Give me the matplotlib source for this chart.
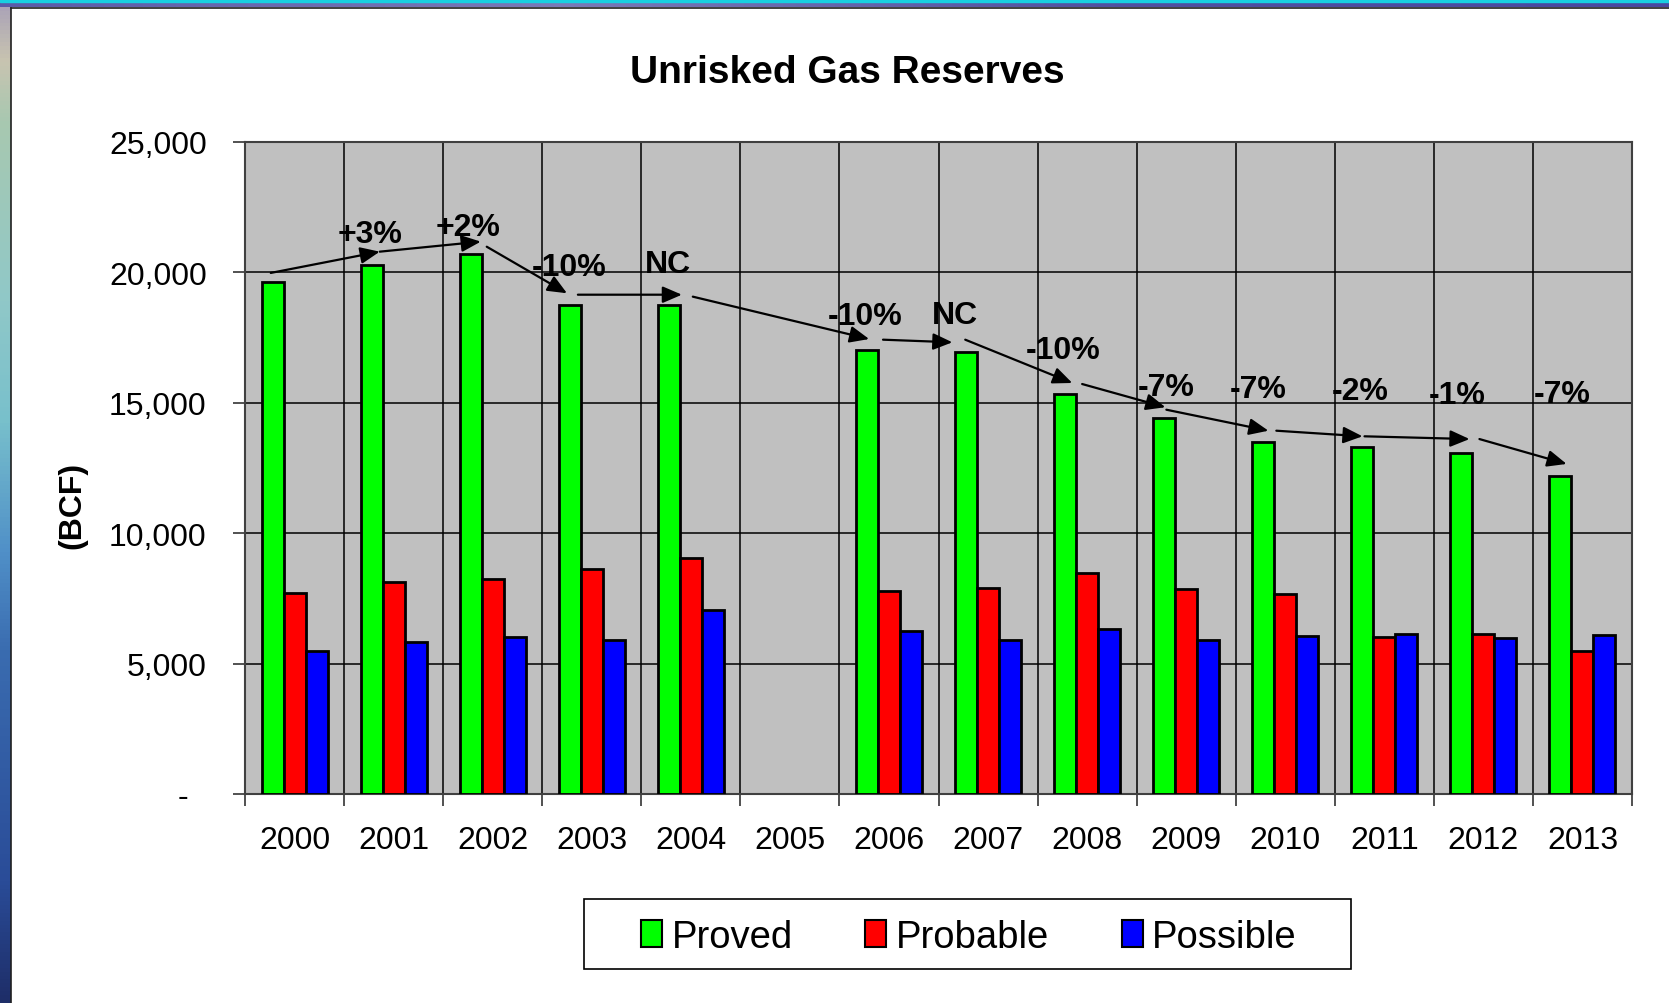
import numpy as np
import matplotlib.pyplot as plt
from matplotlib.colors import LinearSegmentedColormap
from matplotlib.patches import Patch, Rectangle

# values (BCF); 2005 has no bars
years = ['2000', '2001', '2002', '2003', '2004', '2005', '2006',
         '2007', '2008', '2009', '2010', '2011', '2012', '2013']
proved = [19640, 20290, 20700, 18750, 18750, np.nan, 17020,
          16960, 15340, 14400, 13480, 13290, 13070, 12200]
probable = [7700, 8120, 8230, 8640, 9050, np.nan, 7780,
            7910, 8460, 7860, 7650, 6030, 6150, 5490]
possible = [5500, 5820, 6020, 5910, 7040, np.nan, 6240,
            5920, 6320, 5920, 6050, 6150, 5990, 6090]

# trend arrows (category index, BCF)
arrow_x0 = [-0.24, 0.86, 1.94, 2.86, 4.02, 5.94, 6.77, 7.95, 8.80, 9.91, 10.80, 11.96]
arrow_y0 = [19980, 20795, 20985, 19145, 19070, 17420, 17420, 15720, 14735, 13930, 13715, 13610]
arrow_x1 = [0.86, 1.88, 2.75, 3.91, 5.80, 6.64, 7.85, 8.79, 9.83, 10.78, 11.86, 12.84]
arrow_y1 = [20795, 21180, 19200, 19145, 17445, 17320, 15760, 14830, 13930, 13715, 13610, 12655]

change_text = ['+3%', '+2%', '-10%', 'NC', '-10%', 'NC', '-10%', '-7%', '-7%', '-2%', '-1%', '-7%']
change_x = [0.76, 1.75, 2.77, 3.77, 5.76, 6.67, 7.76, 8.80, 9.73, 10.76, 11.74, 12.80]
change_y = [21470, 21730, 20195, 20325, 18315, 18365, 17025, 15595, 15530, 15465, 15300, 15340]

series_names = ['Proved', 'Probable', 'Possible']
series_colors = ['#00ff00', '#ff0000', '#0000ff']

plt.rcParams['font.family'] = ['Liberation Sans', 'DejaVu Sans']

W, H = 1669, 1004
fig = plt.figure(figsize=(W / 100, H / 100), dpi=100)
fig.patch.set_facecolor('white')

# slide background bits (left strip, top band), pixel coords from top-left
bg = fig.add_axes([0, 0, 1, 1])
bg.set_axis_off()
bg.set_xlim(0, W)
bg.set_ylim(H, 0)
strip = LinearSegmentedColormap.from_list('strip', [
    (0.0, '#a8a0b8'), (0.06, '#c8c4b0'), (0.12, '#a8c8b0'), (0.30, '#90c8c8'),
    (0.42, '#78c0cc'), (0.55, '#5090c8'), (0.65, '#3a6cb0'), (0.88, '#2a4c98'),
    (1.0, '#1e2e68')])
bg.imshow(np.linspace(0, 1, 256).reshape(-1, 1), cmap=strip, aspect='auto',
          extent=(0, 10, H, 0), zorder=1)
band = LinearSegmentedColormap.from_list('band', ['#5a5aa8', '#7a7ab8', '#5050a0', '#4848a0'])
bg.imshow(np.linspace(0, 1, 256).reshape(1, -1), cmap=band, aspect='auto',
          extent=(0, W, 8, 3), zorder=1)
bg.add_patch(Rectangle((0, 0), W, 3, color='#18d0e0', zorder=2))
bg.plot([10.5, 10.5], [8.5, H], color='#202020', lw=1.2, zorder=3)
bg.plot([10.5, W], [8.5, 8.5], color='#202020', lw=1.2, zorder=3)
bg.add_patch(Rectangle((584, 900), 767, 70, facecolor='white', edgecolor='black', lw=1.2, zorder=3))

ax = fig.add_axes([245 / W, 1 - 795 / H, (1632 - 245) / W, (795 - 143) / H])
ax.set_facecolor('#c0c0c0')

x = np.arange(len(years))
w = 0.222
for k, vals in enumerate([proved, probable, possible]):
    ax.bar(x + (k - 1) * w, vals, w, color=series_colors[k],
           edgecolor='black', linewidth=2, zorder=3)

ax.set_xlim(-0.5, 13.5)
ax.set_ylim(0, 25000)

ax.set_xticks(np.arange(-0.5, 14, 1))
ax.set_xticklabels([])
ax.set_xticks(x, minor=True)
ax.set_xticklabels(years, minor=True, fontsize=23)
ax.tick_params(axis='x', which='major', length=8.6, width=1.2, direction='out', color='#333333')
ax.tick_params(axis='x', which='minor', length=0, pad=22)

yt = np.arange(0, 25001, 5000)
ax.set_yticks(yt)
ax.set_yticklabels([f'{v:,}' if v else '-  ' for v in yt], fontsize=23)
ax.tick_params(axis='y', length=8.6, width=1.2, direction='out', color='#333333', pad=19)

ax.grid(axis='x', which='major', color='black', lw=1.1, zorder=1)
ax.grid(axis='y', which='major', color='black', lw=1.1, zorder=1)
ax.set_axisbelow(True)
for s in ax.spines.values():
    s.set_color('#404040')
    s.set_linewidth(1.5)

for i in range(len(arrow_x0)):
    ax.annotate('', xy=(arrow_x1[i], arrow_y1[i]), xytext=(arrow_x0[i], arrow_y0[i]),
                arrowprops=dict(arrowstyle='-|>,head_length=0.65,head_width=0.28',
                                color='black', lw=1.6, shrinkA=0, shrinkB=0,
                                mutation_scale=18), zorder=5)
for t, cx, cy in zip(change_text, change_x, change_y):
    ax.text(cx, cy, t, ha='center', va='center', fontsize=23, fontweight='bold', zorder=6)

fig.text(847.5 / W, 1 - 72.8 / H, 'Unrisked Gas Reserves', ha='center', va='center',
         fontsize=28, fontweight='bold')
fig.text(72 / W, 1 - 505 / H, '(BCF)', ha='center', va='center', rotation=90,
         fontsize=23, fontweight='bold')

handles = [Patch(facecolor=c, edgecolor='black', lw=1.5) for c in series_colors]
fig.legend(handles, series_names, loc='center', bbox_to_anchor=(969 / W, 1 - 938 / H),
           ncol=3, frameon=False, handlelength=0.55, handleheight=0.7,
           handletextpad=0.25, columnspacing=1.9,
           prop={'family': ['Liberation Sans', 'DejaVu Sans'], 'size': 27.5})

fig.savefig('out.png', dpi=100)
